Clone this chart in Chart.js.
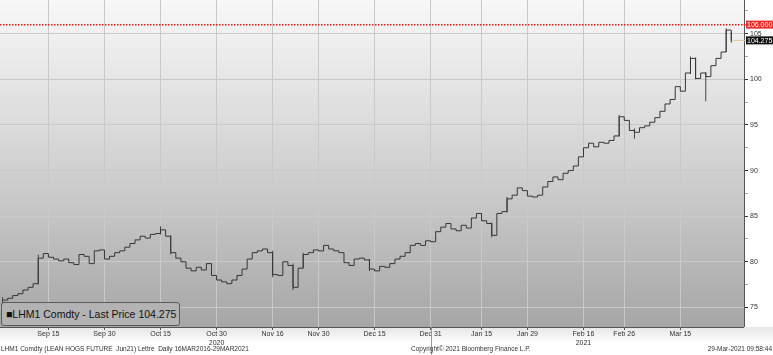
<!DOCTYPE html>
<html>
<head>
<meta charset="utf-8">
<script src="https://cdn.jsdelivr.net/npm/chart.js@4/dist/chart.umd.min.js"></script>
<style>
  body { margin: 0; background: #fff; }
  #wrap { position: relative; width: 773px; height: 355px; overflow: hidden; }
  #legend { position: absolute; left: 1px; top: 302px; width: 179px; height: 24px;
    border: 1px solid #5a5a5a; border-radius: 3px; background: #b3b3b3; box-sizing: border-box;
    font: 10.5px "Liberation Sans", Arial, sans-serif; color: #111; line-height: 22px; padding-left: 4px; }
  .foot { position: absolute; top: 345px; font: 6.5px "Liberation Sans", Arial, sans-serif; color: #333; white-space: pre; }
</style>
</head>
<body>
<div id="wrap">
  <canvas id="myChart" width="773" height="355"></canvas>
  <div id="legend">&#9632;LHM1 Comdty - Last Price 104.275</div>
  <div class="foot" style="left:1px">LHM1 Comdty (LEAN HOGS FUTURE  Jun21) Lettre  Daily 16MAR2016-29MAR2021</div>
  <div class="foot" style="left:411px">Copyright© 2021 Bloomberg Finance L.P.</div>
  <div class="foot" style="right:1px">29-Mar-2021 09:58:44</div>
</div>
<script>
// trading days Sep 1 2020 .. Mar 29 2021 (CME closed on these)
const holidays = ['2020-09-07', '2020-11-26', '2020-12-25', '2021-01-01', '2021-01-18', '2021-02-15'];

// daily settle
const closes = [
  75.8, 76.0, 76.3, 76.5, 76.9, 77.2, 77.6,
  80.4, 80.9, 80.5, 80.3, 80.1, 80.3, 79.9,
  79.7, 80.8, 80.6, 79.8, 81.2, 81.3, 80.3,
  80.6, 81.0, 81.2, 81.6, 82.0, 82.4, 82.8,
  82.6, 83.0, 83.1, 83.5, 82.8, 81.0, 80.4,
  80.0, 79.3, 79.0, 79.4, 79.1, 79.8, 78.5,
  78.0, 77.8, 77.6, 78.0, 78.5, 79.2, 80.3,
  81.0, 81.2, 81.4, 81.0, 78.6, 78.5, 80.0,
  79.6, 77.2, 79.3, 80.8, 81.0, 81.3, 81.2,
  81.8, 81.4, 81.2, 81.0, 79.9, 79.6, 80.3,
  80.4, 80.2, 79.2, 79.0, 79.5, 79.4, 79.8,
  80.3, 80.6, 81.0, 81.8, 82.0, 81.8, 82.3,
  82.2, 83.3, 83.8, 84.2, 83.6, 83.4, 84.0,
  83.7, 84.8, 85.3, 84.5, 84.2, 82.9, 85.3,
  85.5, 86.9, 87.3, 88.1, 87.8, 87.2, 87.1,
  87.3, 88.2, 88.8, 89.3, 89.0, 89.7, 90.0,
  90.5, 91.5, 92.5, 93.0, 92.6, 93.1, 93.0,
  93.3, 93.8, 95.9, 95.5, 94.4, 94.2, 94.7,
  94.9, 95.3, 95.8, 96.5, 97.3, 97.8, 99.2,
  98.7, 100.7, 102.3, 100.1, 100.7, 100.3, 101.5,
  102.3, 103.0, 105.4, 104.275
];

// bars whose high/low reach outside the step: [day index, low, high]
const wicks = [
  [0, 75.4, 76.1], [7, 77.5, 80.8], [31, 83.0, 83.9], [33, 80.8, 82.9],
  [53, 78.3, 81.2], [57, 76.9, 79.8], [59, 79.3, 81.0], [72, 79.0, 80.3],
  [96, 82.7, 84.3], [99, 85.4, 87.1], [121, 93.7, 96.1], [124, 93.5, 94.6],
  [135, 100.6, 102.5], [136, 100.0, 102.4], [138, 97.6, 100.8],
  [142, 103.0, 105.6], [143, 104.0, 105.2]
];

const tickDates = ['2020-09-15', '2020-09-30', '2020-10-15', '2020-10-30', '2020-11-16', '2020-11-30',
  '2020-12-15', '2020-12-31', '2021-01-15', '2021-01-29', '2021-02-16', '2021-02-26', '2021-03-15'];
const tickLabels = ['Sep 15', 'Sep 30', 'Oct 15', ['Oct 30', '2020'], 'Nov 16', 'Nov 30',
  'Dec 15', 'Dec 31', 'Jan 15', 'Jan 29', ['Feb 16', '2021'], 'Feb 26', 'Mar 15'];

const alertLevel = 106.0;
const lastPrice = 104.275;

const days = [];
let d = new Date(Date.UTC(2020, 8, 1));
while (days.length < closes.length) {
  const key = d.toISOString().slice(0, 10);
  const wd = d.getUTCDay();
  if (wd !== 0 && wd !== 6 && !holidays.includes(key)) days.push(key);
  d.setUTCDate(d.getUTCDate() + 1);
}
days.push('', ''); // room on the right

const wickData = days.map(() => null);
wicks.forEach(w => { wickData[w[0]] = [w[1], w[2]]; });

const bgPlugin = {
  id: 'bg',
  beforeDraw(chart) {
    const { ctx, chartArea: a } = chart;
    ctx.save();
    let g = ctx.createLinearGradient(0, a.top, 0, a.bottom);
    g.addColorStop(0, '#f8f8f8');
    g.addColorStop(0.5, '#d2d2d2');
    g.addColorStop(1, '#a6a6a6');
    ctx.fillStyle = g;
    ctx.fillRect(a.left, a.top, a.right - a.left, a.bottom - a.top);
    g = ctx.createLinearGradient(0, a.bottom, 0, a.bottom + 16);
    g.addColorStop(0, '#e6e6e6');
    g.addColorStop(1, '#ffffff');
    ctx.fillStyle = g;
    ctx.fillRect(0, a.bottom, chart.width, 16);
    ctx.restore();
  },
  afterDraw(chart) {
    const { ctx, chartArea: a } = chart;
    const y = chart.scales.y;
    const x = chart.scales.x;
    ctx.save();
    // axis frame
    ctx.strokeStyle = '#555';
    ctx.lineWidth = 1;
    ctx.beginPath();
    ctx.moveTo(a.right + 0.5, a.top);
    ctx.lineTo(a.right + 0.5, a.bottom);
    ctx.moveTo(a.left, a.bottom + 0.5);
    ctx.lineTo(a.right, a.bottom + 0.5);
    ctx.stroke();
    // year divider
    const xd = Math.round(x.getPixelForValue(days.indexOf('2020-12-31'))) + 0.5;
    ctx.strokeStyle = '#999';
    ctx.beginPath();
    ctx.moveTo(xd, a.bottom);
    ctx.lineTo(xd, chart.height);
    ctx.stroke();
    // alert line
    const ya = y.getPixelForValue(alertLevel);
    ctx.strokeStyle = '#e41c1c';
    ctx.lineWidth = 1.5;
    ctx.setLineDash([1.5, 1.5]);
    ctx.beginPath();
    ctx.moveTo(a.left, ya);
    ctx.lineTo(a.right + 2, ya);
    ctx.stroke();
    ctx.setLineDash([]);
    // last price stub
    const yl = y.getPixelForValue(lastPrice);
    ctx.strokeStyle = '#e2c49c';
    ctx.lineWidth = 1;
    ctx.beginPath();
    ctx.moveTo(x.getPixelForValue(closes.length - 1) + 1, yl);
    ctx.lineTo(a.right + 2, yl);
    ctx.stroke();
    // right hand price tags
    ctx.font = '7px "Liberation Sans", Arial, sans-serif';
    ctx.textBaseline = 'middle';
    ctx.textAlign = 'left';
    ctx.fillStyle = '#ee2a2a';
    ctx.fillRect(a.right + 2, ya - 4, chart.width - a.right - 2, 8);
    ctx.fillStyle = '#fff';
    ctx.fillText(alertLevel.toFixed(3), a.right + 3, ya + 0.5);
    ctx.fillStyle = '#111';
    ctx.fillRect(a.right + 2, yl - 4, chart.width - a.right - 2, 8);
    ctx.fillStyle = '#fff';
    ctx.fillText(lastPrice.toFixed(3), a.right + 3, yl + 0.5);
    ctx.restore();
  }
};

const ctx = document.getElementById('myChart').getContext('2d');
let myChart = new Chart(ctx, {
  type: 'line',
  data: {
    labels: days,
    datasets: [
      {
        label: 'LHM1 Comdty',
        data: closes,
        stepped: true,
        borderColor: '#363636',
        borderWidth: 1,
        pointRadius: 0,
        fill: false
      },
      {
        type: 'bar',
        label: 'range',
        data: wickData,
        backgroundColor: '#444',
        barThickness: 1,
        inflateAmount: 0,
        borderWidth: 0
      }
    ]
  },
  plugins: [bgPlugin],
  options: {
    responsive: false,
    animation: false,
    events: [],
    layout: { padding: 0 },
    plugins: { legend: { display: false }, tooltip: { enabled: false } },
    scales: {
      x: {
        offset: true,
        grid: { color: '#c9c9c9', offset: false, drawTicks: true, tickLength: 3, tickColor: '#555' },
        border: { display: false },
        afterFit: s => { s.height = 28; s.paddingLeft = 0; s.paddingRight = 0; },
        ticks: {
          autoSkip: false,
          maxRotation: 0,
          padding: 0,
          color: '#333',
          font: { family: 'Liberation Sans', size: 7 },
          callback: function (v) {
            const k = tickDates.indexOf(days[v]);
            return k < 0 ? null : tickLabels[k];
          }
        }
      },
      y: {
        position: 'right',
        min: 72.85,
        max: 108.7,
        afterFit: s => { s.width = 29; s.paddingTop = 0; s.paddingBottom = 0; },
        border: { display: false },
        grid: {
          color: c => (c.tick && c.tick.value % 5 === 0 ? '#c9c9c9' : 'rgba(0,0,0,0)'),
          tickColor: c => (c.tick && c.tick.value % 5 === 0 ? '#333' : '#aaa'),
          tickLength: 4
        },
        ticks: {
          stepSize: 2.5,
          padding: 2,
          color: '#333',
          font: { family: 'Liberation Sans', size: 7 },
          callback: function (v) {
            if (v % 5 === 0) return v;
            if (v % 2.5 === 0) return '';
            return null;
          }
        }
      }
    }
  }
});
</script>
</body>
</html>
